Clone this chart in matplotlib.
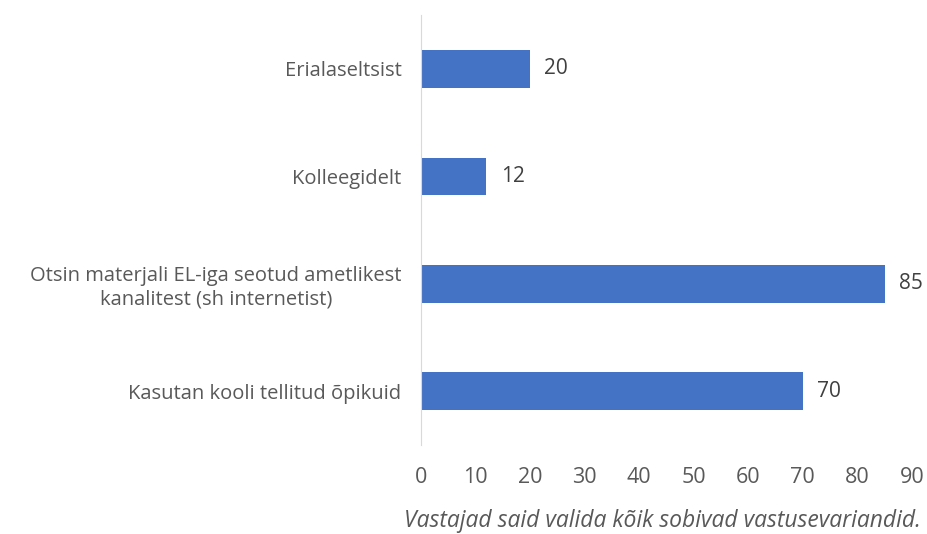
import matplotlib
matplotlib.use("Agg")
import matplotlib.pyplot as plt

categories = ["Kasutan kooli tellitud õpikuid",
              "Otsin materjali EL-iga seotud ametlikest\nkanalitest (sh internetist)",
              "Kolleegidelt",
              "Erialaseltsist"]
values = [70, 85, 12, 20]
xticks = list(range(0, 91, 10))
caption = "Vastajad said valida kõik sobivad vastusevariandid."

plt.rcParams['font.family'] = ['Open Sans', 'DejaVu Sans']
txt = "#595959"

fig = plt.figure(figsize=(9.28, 5.34), dpi=100)
ax = fig.add_axes([0.4537, 0.1667, 0.529, 0.805])

bars = ax.barh(range(len(values)), values, height=0.35, color="#4472C4")
for b, v in zip(bars, values):
    ax.text(b.get_width() + 2.6, b.get_y() + b.get_height() / 2, str(v),
            va="center", ha="left", fontsize=15, color="#404040")

ax.set_ylim(-0.5, 3.5)
ax.set_xlim(0, 90)
ax.set_yticks(range(len(categories)))
ax.set_yticklabels(categories, fontsize=14.5, color=txt, ha="right",
                   multialignment="center")
ax.tick_params(axis="y", length=0, pad=14)
ax.set_xticks(xticks)
ax.tick_params(axis="x", length=0, labelsize=15.5, labelcolor=txt, pad=16)

for s in ["top", "right", "bottom"]:
    ax.spines[s].set_visible(False)
ax.spines["left"].set_color("#D9D9D9")

fig.text(0.992, 0.001, caption, ha="right", va="bottom", fontsize=16.5,
         style="italic", color=txt)

fig.savefig("out.png", dpi=100)
